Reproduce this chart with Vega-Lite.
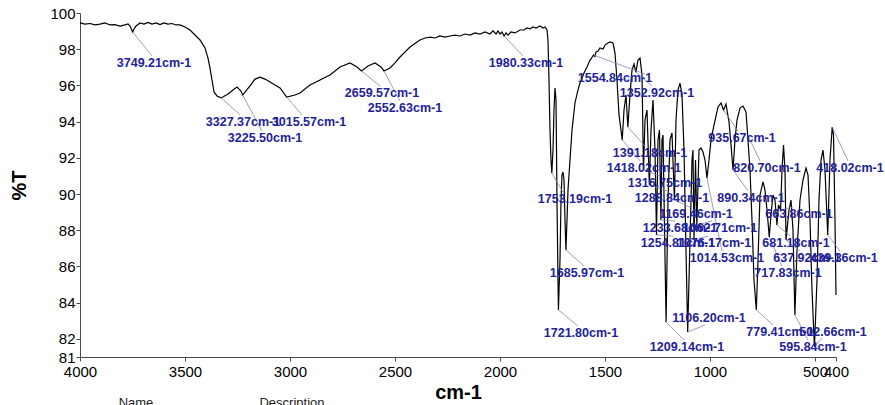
{
  "$schema": "https://vega.github.io/schema/vega-lite/v6.json",
  "width": 756,
  "height": 344,
  "autosize": {"type": "none"},
  "padding": {"left": 80, "top": 13, "right": 49, "bottom": 48},
  "background": "white",
  "config": {
    "view": {"stroke": null},
    "font": "Liberation Sans",
    "axis": {
      "grid": false,
      "domainColor": "#4a4a4a",
      "tickColor": "#4a4a4a",
      "tickSize": 4,
      "labelColor": "#000000",
      "labelFont": "Liberation Sans",
      "labelFontSize": 15,
      "titleColor": "#000000",
      "titleFont": "Liberation Sans",
      "titleFontWeight": "bold",
      "labelOverlap": false,
      "labelFlush": false
    }
  },
  "datasets": {
    "spectrum": [
      {"w":4000,"t":99.45},{"w":3976.2,"t":99.39},{"w":3952.4,"t":99.42},{"w":3928.6,"t":99.34},{"w":3904.8,"t":99.39},{"w":3881.0,"t":99.45},{"w":3857.1,"t":99.34},{"w":3833.3,"t":99.36},{"w":3809.5,"t":99.28},{"w":3785.7,"t":99.34},{"w":3771.4,"t":99.39},{"w":3761.9,"t":99.28},{"w":3749.21,"t":98.95},{"w":3742.9,"t":99.12},{"w":3733.3,"t":99.28},{"w":3714.3,"t":99.45},{"w":3695.2,"t":99.39},{"w":3676.2,"t":99.48},{"w":3657.1,"t":99.39},{"w":3638.1,"t":99.45},{"w":3619.0,"t":99.36},{"w":3600.0,"t":99.45},{"w":3581.0,"t":99.39},{"w":3561.9,"t":99.42},{"w":3542.9,"t":99.34},{"w":3523.8,"t":99.34},{"w":3500.0,"t":99.23},{"w":3476.2,"t":99.06},{"w":3428.6,"t":98.51},{"w":3404.8,"t":98.07},{"w":3390.5,"t":97.51},{"w":3381.0,"t":96.96},{"w":3371.4,"t":96.30},{"w":3361.9,"t":95.64},{"w":3347.6,"t":95.42},{"w":3327.37,"t":95.31},{"w":3295.2,"t":95.53},{"w":3271.4,"t":95.75},{"w":3252.4,"t":95.91},{"w":3233.3,"t":95.69},{"w":3225.50,"t":95.47},{"w":3190.5,"t":95.97},{"w":3166.7,"t":96.35},{"w":3142.9,"t":96.46},{"w":3119.0,"t":96.35},{"w":3095.2,"t":96.19},{"w":3071.4,"t":96.02},{"w":3047.6,"t":95.86},{"w":3015.57,"t":95.36},{"w":2976.2,"t":95.47},{"w":2952.4,"t":95.58},{"w":2904.8,"t":96.02},{"w":2857.1,"t":96.30},{"w":2809.5,"t":96.58},{"w":2761.9,"t":97.02},{"w":2714.3,"t":97.24},{"w":2681.0,"t":97.02},{"w":2659.57,"t":96.80},{"w":2628.6,"t":97.07},{"w":2595.2,"t":97.24},{"w":2566.7,"t":97.02},{"w":2552.63,"t":96.80},{"w":2523.8,"t":96.96},{"w":2500.0,"t":97.24},{"w":2476.2,"t":97.57},{"w":2428.6,"t":98.12},{"w":2381.0,"t":98.51},{"w":2357.1,"t":98.62},{"w":2333.3,"t":98.67},{"w":2309.5,"t":98.62},{"w":2285.7,"t":98.73},{"w":2261.9,"t":98.67},{"w":2238.1,"t":98.73},{"w":2214.3,"t":98.78},{"w":2190.5,"t":98.73},{"w":2166.7,"t":98.84},{"w":2142.9,"t":98.78},{"w":2119.0,"t":98.90},{"w":2095.2,"t":98.84},{"w":2071.4,"t":98.95},{"w":2047.6,"t":98.84},{"w":2033.3,"t":99.01},{"w":2019.0,"t":98.84},{"w":2009.5,"t":99.01},{"w":2000.0,"t":98.84},{"w":1990.5,"t":98.95},{"w":1980.33,"t":98.73},{"w":1971.4,"t":98.90},{"w":1961.9,"t":98.78},{"w":1947.6,"t":98.95},{"w":1928.6,"t":98.90},{"w":1904.8,"t":99.06},{"w":1885.7,"t":99.06},{"w":1871.4,"t":99.17},{"w":1857.1,"t":99.12},{"w":1842.9,"t":99.23},{"w":1828.6,"t":99.17},{"w":1809.5,"t":99.28},{"w":1795.2,"t":99.17},{"w":1785.7,"t":99.23},{"w":1776.2,"t":99.06},{"w":1771.4,"t":98.51},{"w":1766.7,"t":96.30},{"w":1761.9,"t":93.54},{"w":1757.1,"t":91.88},{"w":1753.19,"t":91.16},{"w":1747.6,"t":92.43},{"w":1742.9,"t":94.64},{"w":1738.1,"t":95.86},{"w":1733.3,"t":95.19},{"w":1728.6,"t":89.67},{"w":1723.8,"t":85.25},{"w":1721.80,"t":83.60},{"w":1714.3,"t":86.36},{"w":1709.5,"t":89.67},{"w":1704.8,"t":91.05},{"w":1700.0,"t":91.22},{"w":1695.2,"t":90.78},{"w":1690.5,"t":88.57},{"w":1685.97,"t":86.91},{"w":1681.0,"t":88.57},{"w":1676.2,"t":90.22},{"w":1666.7,"t":91.88},{"w":1657.1,"t":93.54},{"w":1642.9,"t":95.03},{"w":1628.6,"t":95.75},{"w":1619.0,"t":96.13},{"w":1600.0,"t":96.69},{"w":1585.7,"t":97.02},{"w":1571.4,"t":97.40},{"w":1562.0,"t":97.55},{"w":1554.84,"t":97.68},{"w":1548.0,"t":97.60},{"w":1542.9,"t":97.85},{"w":1533.0,"t":97.90},{"w":1523.8,"t":98.07},{"w":1509.5,"t":98.01},{"w":1500.0,"t":98.23},{"w":1485.7,"t":98.34},{"w":1476.2,"t":98.40},{"w":1461.9,"t":98.34},{"w":1452.4,"t":97.79},{"w":1442.9,"t":96.30},{"w":1433.3,"t":94.37},{"w":1418.02,"t":92.99},{"w":1409.5,"t":94.64},{"w":1400.0,"t":95.47},{"w":1391.18,"t":93.70},{"w":1381.0,"t":95.47},{"w":1371.4,"t":96.85},{"w":1361.9,"t":97.18},{"w":1352.92,"t":96.74},{"w":1342.9,"t":97.40},{"w":1333.3,"t":97.51},{"w":1323.8,"t":96.58},{"w":1316.75,"t":91.33},{"w":1309.5,"t":94.09},{"w":1300.0,"t":94.64},{"w":1288.84,"t":90.50},{"w":1280.9,"t":93.54},{"w":1271.4,"t":95.19},{"w":1261.9,"t":92.43},{"w":1254.81,"t":87.74},{"w":1247.6,"t":92.99},{"w":1240.5,"t":93.54},{"w":1233.68,"t":88.57},{"w":1228.6,"t":92.99},{"w":1223.8,"t":93.26},{"w":1209.14,"t":82.93},{"w":1200.0,"t":89.67},{"w":1190.5,"t":92.99},{"w":1181.0,"t":93.37},{"w":1169.46,"t":89.67},{"w":1161.9,"t":94.09},{"w":1152.4,"t":95.75},{"w":1142.9,"t":96.13},{"w":1133.3,"t":95.47},{"w":1123.8,"t":92.43},{"w":1114.3,"t":86.91},{"w":1106.20,"t":82.38},{"w":1095.2,"t":87.46},{"w":1085.7,"t":91.88},{"w":1081.0,"t":92.43},{"w":1076.17,"t":87.46},{"w":1069.0,"t":91.88},{"w":1062.71,"t":88.29},{"w":1052.4,"t":92.43},{"w":1042.9,"t":92.54},{"w":1033.3,"t":92.32},{"w":1023.8,"t":91.88},{"w":1014.53,"t":90.89},{"w":1004.8,"t":91.88},{"w":995.2,"t":92.99},{"w":981.0,"t":93.81},{"w":961.9,"t":94.81},{"w":947.6,"t":95.03},{"w":935.67,"t":94.64},{"w":923.8,"t":94.97},{"w":909.5,"t":93.98},{"w":900.0,"t":92.71},{"w":890.34,"t":91.33},{"w":881.0,"t":92.99},{"w":871.4,"t":94.09},{"w":857.1,"t":94.75},{"w":842.9,"t":94.86},{"w":828.6,"t":94.53},{"w":820.70,"t":93.26},{"w":809.5,"t":91.33},{"w":800.0,"t":88.57},{"w":790.5,"t":85.25},{"w":779.41,"t":83.60},{"w":771.4,"t":86.36},{"w":761.9,"t":89.95},{"w":747.6,"t":90.67},{"w":738.1,"t":90.22},{"w":728.6,"t":89.12},{"w":717.83,"t":87.63},{"w":709.5,"t":88.84},{"w":700.0,"t":89.95},{"w":690.5,"t":89.67},{"w":681.18,"t":88.29},{"w":673.8,"t":89.40},{"w":663.86,"t":89.12},{"w":657.1,"t":91.33},{"w":650.0,"t":92.71},{"w":642.9,"t":91.33},{"w":637.92,"t":87.46},{"w":623.8,"t":89.12},{"w":614.3,"t":89.67},{"w":604.8,"t":88.02},{"w":595.84,"t":83.32},{"w":585.7,"t":86.91},{"w":571.4,"t":89.67},{"w":557.1,"t":90.78},{"w":542.9,"t":91.44},{"w":533.3,"t":91.05},{"w":523.8,"t":88.57},{"w":514.3,"t":84.70},{"w":502.66,"t":81.55},{"w":490.5,"t":85.25},{"w":481.0,"t":89.67},{"w":471.4,"t":91.88},{"w":461.9,"t":92.43},{"w":452.4,"t":91.33},{"w":439.36,"t":87.74},{"w":428.6,"t":91.88},{"w":418.02,"t":93.70},{"w":411.9,"t":93.26},{"w":404.8,"t":88.57},{"w":400,"t":84.42}
    ],
    "peaks": [
      {"lab":"3749.21cm-1","w":3749.21,"t":98.95,"ex":3657.1,"ey":97.63,"lx":3647.6,"ly":97.24},
      {"lab":"3327.37cm-1","w":3327.37,"t":95.31,"ex":3238.1,"ey":94.37,"lx":3223.8,"ly":93.98},
      {"lab":"3225.50cm-1","w":3225.50,"t":95.47,"ex":3133.3,"ey":93.48,"lx":3119.0,"ly":93.10},
      {"lab":"3015.57cm-1","w":3015.57,"t":95.36,"ex":2942.9,"ey":94.37,"lx":2909.5,"ly":93.98},
      {"lab":"2659.57cm-1","w":2659.57,"t":96.80,"ex":2571.4,"ey":95.97,"lx":2561.9,"ly":95.58},
      {"lab":"2552.63cm-1","w":2552.63,"t":96.80,"ex":2476.2,"ey":95.14,"lx":2452.4,"ly":94.75},
      {"lab":"1980.33cm-1","w":1980.33,"t":98.73,"ex":1890.5,"ey":97.63,"lx":1876.2,"ly":97.24},
      {"lab":"1753.19cm-1","w":1753.19,"t":91.16,"ex":1700.0,"ey":90.11,"lx":1642.9,"ly":89.73},
      {"lab":"1721.80cm-1","w":1721.80,"t":83.60,"ex":1628.6,"ey":82.71,"lx":1614.3,"ly":82.33},
      {"lab":"1685.97cm-1","w":1685.97,"t":86.91,"ex":1600.0,"ey":86.03,"lx":1585.7,"ly":85.64},
      {"lab":"1554.84cm-1","w":1554.84,"t":97.68,"ex":1309.5,"ey":96.63,"lx":1452.4,"ly":96.41},
      {"lab":"1352.92cm-1","w":1352.92,"t":96.74,"ex":1276.2,"ey":95.97,"lx":1252.4,"ly":95.58},
      {"lab":"1391.18cm-1","w":1391.18,"t":93.70,"ex":1309.5,"ey":92.65,"lx":1285.7,"ly":92.27},
      {"lab":"1418.02cm-1","w":1418.02,"t":92.99,"ex":1333.3,"ey":91.83,"lx":1314.3,"ly":91.44},
      {"lab":"1316.75cm-1","w":1316.75,"t":91.33,"ex":1238.1,"ey":91.0,"lx":1214.3,"ly":90.61},
      {"lab":"1288.84cm-1","w":1288.84,"t":90.50,"ex":1204.8,"ey":90.17,"lx":1181.0,"ly":89.78},
      {"lab":"1169.46cm-1","w":1169.46,"t":89.67,"ex":1095.2,"ey":89.28,"lx":1066.7,"ly":88.90},
      {"lab":"1233.68cm-1","w":1233.68,"t":88.57,"ex":1166.7,"ey":88.51,"lx":1142.9,"ly":88.13},
      {"lab":"1062.71cm-1","w":1062.71,"t":88.29,"ex":990.5,"ey":88.51,"lx":952.4,"ly":88.13},
      {"lab":"1254.81cm-1","w":1254.81,"t":87.74,"ex":1176.2,"ey":87.68,"lx":1152.4,"ly":87.30},
      {"lab":"1076.17cm-1","w":1076.17,"t":87.46,"ex":1009.5,"ey":87.68,"lx":981.0,"ly":87.30},
      {"lab":"1014.53cm-1","w":1014.53,"t":90.89,"ex":942.9,"ey":86.85,"lx":919.0,"ly":86.47},
      {"lab":"935.67cm-1","w":935.67,"t":94.64,"ex":866.7,"ey":93.48,"lx":847.6,"ly":93.10},
      {"lab":"890.34cm-1","w":890.34,"t":91.33,"ex":819.0,"ey":90.17,"lx":804.8,"ly":89.78},
      {"lab":"820.70cm-1","w":820.70,"t":93.26,"ex":761.9,"ey":91.83,"lx":728.6,"ly":91.44},
      {"lab":"779.41cm-1","w":779.41,"t":83.60,"ex":700.0,"ey":82.77,"lx":666.7,"ly":82.38},
      {"lab":"502.66cm-1","w":502.66,"t":81.55,"ex":466.7,"ey":82.05,"lx":414.3,"ly":82.38},
      {"lab":"595.84cm-1","w":595.84,"t":83.32,"ex":533.3,"ey":81.94,"lx":509.5,"ly":81.55},
      {"lab":"717.83cm-1","w":717.83,"t":87.63,"ex":657.1,"ey":86.03,"lx":628.6,"ly":85.64},
      {"lab":"681.18cm-1","w":681.18,"t":88.29,"ex":619.0,"ey":87.68,"lx":590.5,"ly":87.30},
      {"lab":"663.86cm-1","w":663.86,"t":89.12,"ex":604.8,"ey":89.28,"lx":576.2,"ly":88.90},
      {"lab":"637.92cm-1","w":637.92,"t":87.46,"ex":571.4,"ey":86.85,"lx":538.1,"ly":86.47},
      {"lab":"439.36cm-1","w":439.36,"t":87.74,"ex":381.0,"ey":86.85,"lx":361.9,"ly":86.47},
      {"lab":"418.02cm-1","w":418.02,"t":93.70,"ex":342.9,"ey":91.83,"lx":333.3,"ly":91.44},
      {"lab":"1106.20cm-1","w":1106.20,"t":82.38,"ex":1023.8,"ey":82.77,"lx":1004.8,"ly":83.15},
      {"lab":"1209.14cm-1","w":1209.14,"t":82.93,"ex":1123.8,"ey":81.94,"lx":1109.5,"ly":81.55}
    ],
    "table": [
      {"head":"Name","w":3733.3,"t":78.79},
      {"head":"Description","w":2990.5,"t":78.79}
    ]
  },
  "layer": [
    {
      "data": {"name": "spectrum"},
      "mark": {"type": "line", "color": "#000000", "strokeWidth": 1.2, "interpolate": "linear"},
      "encoding": {
        "x": {
          "field": "w", "type": "quantitative", "title": "cm-1",
          "scale": {"domain": [400, 4000], "reverse": true, "nice": false, "zero": false},
          "axis": {
            "values": [4000, 3500, 3000, 2500, 2000, 1500, 1000, 500, 400],
            "format": "d", "labelPadding": 3, "labelOverlap": false, "labelFlush": false,
            "labelDx": {"expr": "datum.value == 500 ? -5 : 0"},
            "titleFontSize": 20, "titlePadding": 3
          }
        },
        "y": {
          "field": "t", "type": "quantitative", "title": "%T",
          "scale": {"domain": [81, 100], "nice": false, "zero": false},
          "axis": {
            "values": [81, 82, 84, 86, 88, 90, 92, 94, 96, 98, 100],
            "format": "d", "labelPadding": 1, "labelOverlap": false, "labelFlush": false,
            "tickCount": 11, "labelBound": false,
            "labelExpr": "datum.label",
            "titleFontSize": 20, "titlePadding": 20
          }
        }
      }
    },
    {
      "data": {"name": "peaks"},
      "mark": {"type": "rule", "color": "#8484b8", "strokeWidth": 0.8},
      "encoding": {
        "x": {"field": "w", "type": "quantitative", "title": "cm-1", "scale": {"domain": [400, 4000], "reverse": true, "nice": false, "zero": false}},
        "y": {"field": "t", "type": "quantitative", "title": "%T", "scale": {"domain": [81, 100], "nice": false, "zero": false}},
        "x2": {"field": "ex"},
        "y2": {"field": "ey"}
      }
    },
    {
      "data": {"name": "peaks"},
      "mark": {"type": "text", "color": "#22229a", "font": "Liberation Sans", "fontSize": 12.5, "fontWeight": "bold", "align": "center", "baseline": "middle"},
      "encoding": {
        "x": {"field": "lx", "type": "quantitative", "title": "cm-1", "scale": {"domain": [400, 4000], "reverse": true, "nice": false, "zero": false}},
        "y": {"field": "ly", "type": "quantitative", "title": "%T", "scale": {"domain": [81, 100], "nice": false, "zero": false}},
        "text": {"field": "lab"}
      }
    },
    {
      "data": {"name": "table"},
      "mark": {"type": "text", "color": "#222222", "font": "Liberation Sans", "fontSize": 13, "align": "center", "baseline": "top"},
      "encoding": {
        "x": {"field": "w", "type": "quantitative", "title": "cm-1", "scale": {"domain": [400, 4000], "reverse": true, "nice": false, "zero": false}},
        "y": {"field": "t", "type": "quantitative", "title": "%T", "scale": {"domain": [81, 100], "nice": false, "zero": false}},
        "text": {"field": "head"}
      }
    }
  ]
}
